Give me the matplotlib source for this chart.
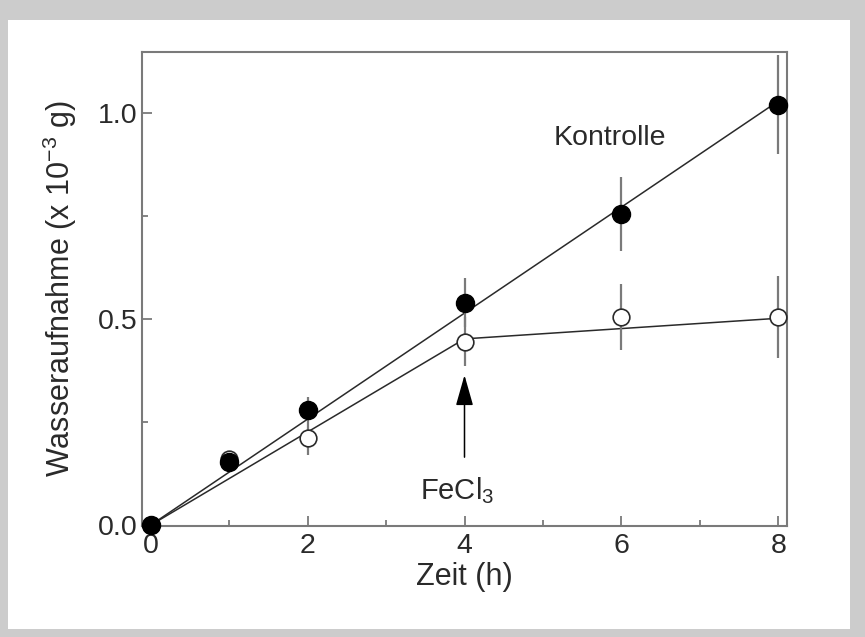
import numpy as np
import matplotlib.pyplot as plt
from matplotlib.patches import Rectangle

plt.rcParams['font.family'] = ['Liberation Sans', 'DejaVu Sans']
plt.rcParams['mathtext.fontset'] = 'custom'
plt.rcParams['mathtext.rm'] = 'Liberation Sans'
plt.rcParams['mathtext.it'] = 'Liberation Sans:italic'

# Zeit (h)
zeit = [0, 1, 2, 4, 6, 8]
# Wasseraufnahme (x 10^-3 g)
kontrolle = [0.0, 0.153, 0.28, 0.54, 0.755, 1.02]
kontrolle_err = [0.0, 0.015, 0.03, 0.06, 0.09, 0.12]
fecl3 = [0.0, 0.16, 0.211, 0.445, 0.505, 0.505]
fecl3_err = [0.0, 0.015, 0.04, 0.06, 0.08, 0.10]
# hand-drawn fit for the FeCl3 treatment (break at 4 h)
fecl3_fit_x = [0, 4, 8]
fecl3_fit_y = [0.0, 0.452, 0.502]

ink = '#2a2a2a'
grey = '#7a7a7a'

fig = plt.figure(figsize=(8.65, 6.37), dpi=100, facecolor='#cccccc')
W, H = 865, 637
fig.patches.append(Rectangle((8 / W, 1 - 629 / H), 842 / W, 609 / H,
                             transform=fig.transFigure, facecolor='white',
                             edgecolor='none', zorder=-5))
ax = fig.add_axes([142 / W, 1 - 526 / H, 645 / W, 474 / H])
ax.set_zorder(2)

# Kontrolle: line through origin
x = np.array(zeit)
slope = np.sum(x * np.array(kontrolle)) / np.sum(x * x)
ax.plot([0, 8], [0, slope * 8], color=ink, lw=1.1, zorder=2)
ax.plot(fecl3_fit_x, fecl3_fit_y, color=ink, lw=1.1, zorder=2)

ax.errorbar(zeit, fecl3, yerr=fecl3_err, fmt='o', ms=12, mfc='white',
            mec=ink, mew=1.2, ecolor=grey, elinewidth=1.6, capsize=0,
            zorder=3, clip_on=False)
ax.errorbar(zeit, kontrolle, yerr=kontrolle_err, fmt='o', ms=13, mfc='black',
            mec='black', ecolor=grey, elinewidth=1.6, capsize=0,
            zorder=4, clip_on=False)

ax.annotate('', xy=(4, 0.364), xytext=(4, 0.165),
            arrowprops=dict(arrowstyle='-|>,head_length=0.95,head_width=0.27',
                            mutation_scale=20, color='black', lw=1.1,
                            shrinkA=0, shrinkB=0))
ax.text(3.9, 0.085, 'FeCl$_3$', ha='center', va='center', fontsize=21, color=ink)
ax.text(5.85, 0.94, 'Kontrolle', ha='center', va='center', fontsize=20.5, color=ink)

ax.set_xlim(-0.11, 8.11)
ax.set_ylim(-0.002, 1.148)
ax.set_xticks([0, 2, 4, 6, 8])
ax.set_xticks([1, 3, 5, 7], minor=True)
ax.set_yticks([0.0, 0.5, 1.0])
ax.set_yticks([0.25, 0.75], minor=True)
ax.set_yticklabels(['0.0', '0.5', '1.0'])

for s in ax.spines.values():
    s.set_color(grey)
    s.set_linewidth(1.5)
ax.tick_params(which='both', direction='in', color=grey, width=1.3,
               labelsize=20.5, labelcolor=ink)
ax.tick_params(which='major', length=7)
ax.tick_params(which='minor', length=4)
ax.tick_params(axis='x', pad=5)
ax.tick_params(axis='y', pad=3)

ax.set_xlabel('Zeit (h)', fontsize=22, color=ink, labelpad=2)
ax.set_ylabel('Wasseraufnahme (x 10$^{\\mathrm{-3}}$ g)', fontsize=22,
              color=ink, labelpad=14)

fig.savefig('out.png', dpi=100, facecolor=fig.get_facecolor())
